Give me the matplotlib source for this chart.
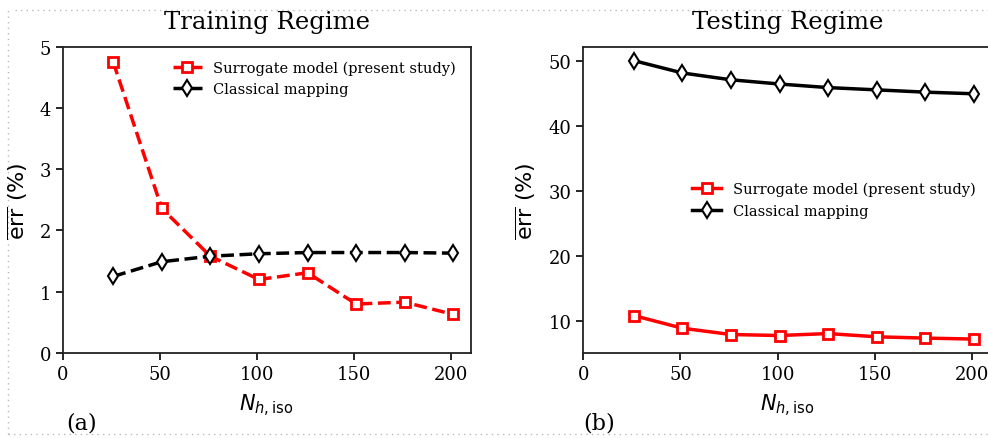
import matplotlib
matplotlib.use('Agg')
import matplotlib.pyplot as plt
from matplotlib.lines import Line2D

plt.rcParams['font.family'] = 'DejaVu Serif'
plt.rcParams['mathtext.fontset'] = 'dejavusans'

# number of isotropic hidden units
n_iso = [26, 51, 76, 101, 126, 151, 176, 201]

# mean error (%) on the training set
train_surrogate = [4.75, 2.36, 1.58, 1.20, 1.31, 0.80, 0.83, 0.63]
train_classical = [1.25, 1.49, 1.58, 1.62, 1.64, 1.64, 1.64, 1.63]

# mean error (%) on the testing set
test_surrogate = [10.77, 8.82, 7.85, 7.70, 8.00, 7.50, 7.30, 7.15]
test_classical = [50.0, 48.1, 47.05, 46.4, 45.85, 45.5, 45.15, 44.9]

labels = ['Surrogate model (present study)', 'Classical mapping']

W, H = 988, 439
fig = plt.figure(figsize=(W/100, H/100), dpi=100)

ax1 = fig.add_axes([62.7/W, 1-354/H, 408/W, 306.3/H])
ax2 = fig.add_axes([583.3/W, 1-354/H, 408/W, 306.3/H])

red_kw = dict(color='red', marker='s', ms=7, mew=2, mfc='white', mec='red', lw=2.5)
blk_kw = dict(color='black', marker='d', ms=8, mew=1.5, mfc='white', mec='black', lw=2.5)

ax1.plot(n_iso, train_surrogate, ls='--', label=labels[0], **red_kw)
ax1.plot(n_iso, train_classical, ls='--', label=labels[1], **blk_kw)
ax1.set_xlim(0, 210)
ax1.set_ylim(0, 5)

ax2.plot(n_iso, test_surrogate, ls='-', label=labels[0], **red_kw)
ax2.plot(n_iso, test_classical, ls='-', label=labels[1], **blk_kw)
ax2.set_xlim(0, 210)
ax2.set_yticks([10, 20, 30, 40, 50])

for ax in (ax1, ax2):
    ax.set_xticks([0, 50, 100, 150, 200])
    ax.tick_params(labelsize=13, width=1.2, length=5)
    for sp in ax.spines.values():
        sp.set_linewidth(1.3)
        sp.set_color('#222222')

ax1.legend(loc='center left', bbox_to_anchor=(0.255, 0.897), borderaxespad=0,
           frameon=False, fontsize=10.5)
ax2.legend(loc='center left', bbox_to_anchor=(0.252, 0.50), borderaxespad=0,
           frameon=False, fontsize=10.5)

# titles, axis labels and panel tags
fig.text(266.7/W, 1-29.3/H, 'Training Regime', ha='center', va='baseline', fontsize=17.5)
fig.text(787.5/W, 1-29.3/H, 'Testing Regime', ha='center', va='baseline', fontsize=17.5)
for xc in (266.5, 787.5):
    fig.text(xc/W, 1-411/H, r'$N_{h,\mathrm{iso}}$', ha='center', va='baseline', fontsize=15)
for xc in (17.5, 526):
    fig.text(xc/W, 1-201/H, r'$\overline{\mathrm{err}}$ (%)', ha='center', va='center',
             rotation=90, fontsize=16, family='DejaVu Sans')
fig.text(66/W, 1-430/H, '(a)', ha='left', va='baseline', fontsize=16)
fig.text(583/W, 1-430/H, '(b)', ha='left', va='baseline', fontsize=16)

# dotted frame round the panels
dot = dict(color='#bbbbbb', ls=(0, (1, 3)), lw=1.0, transform=fig.transFigure)
fig.add_artist(Line2D([15/W, 1], [1-11/H, 1-11/H], **dot))
fig.add_artist(Line2D([8/W, 1], [1-435/H, 1-435/H], **dot))
fig.add_artist(Line2D([8/W, 8/W], [1-435/H, 1-11/H], **dot))

fig.savefig('out.png', dpi=100)
